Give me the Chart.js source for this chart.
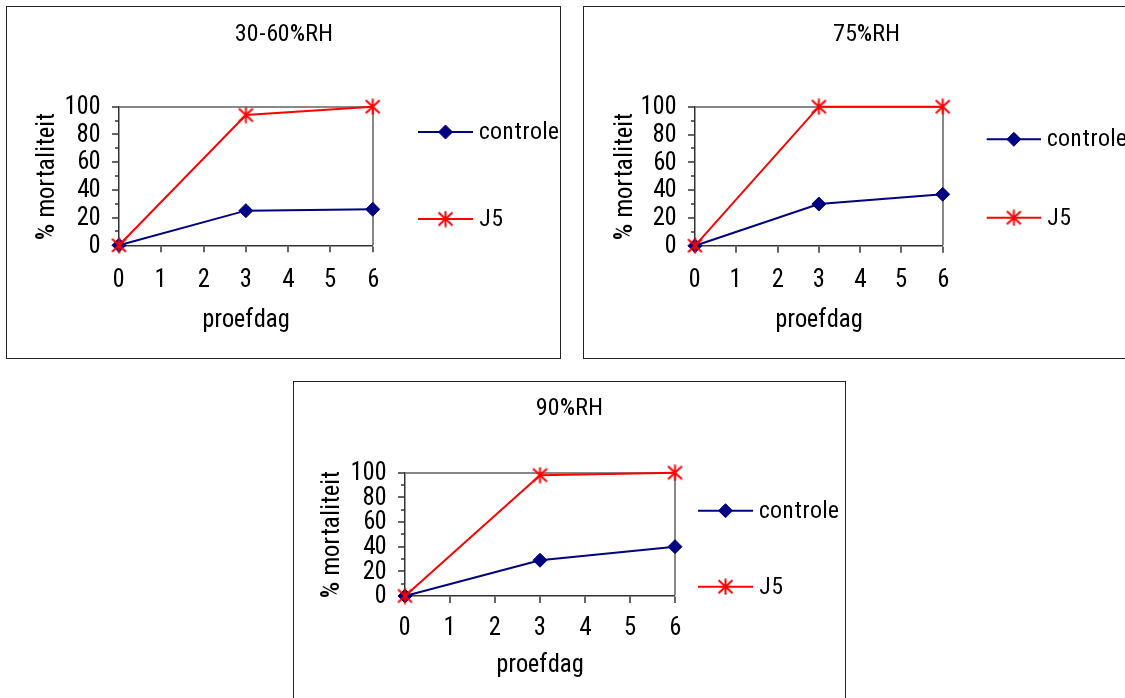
<!DOCTYPE html>
<html>
<head>
<meta charset="utf-8">
<script src="https://cdn.jsdelivr.net/npm/chart.js@4.4.1/dist/chart.umd.min.js"></script>
<style>
html,body{margin:0;padding:0;background:#fff;width:1125px;height:698px;overflow:hidden;position:relative}
.panel{position:absolute;border:1px solid #222;background:#fff}
.panel canvas{display:block}
</style>
</head>
<body>
<div class="panel" style="left:6px;top:6px;"><canvas id="c1" width="553" height="351"></canvas></div>
<div class="panel" style="left:583px;top:6px;"><canvas id="c2" width="564" height="351"></canvas></div>
<div class="panel" style="left:293px;top:381px;"><canvas id="c3" width="551" height="318"></canvas></div>
<script>
// ---- data ----
const days = [0, 3, 6];
const seriesNames = ['controle', 'J5'];
const titles = ['30-60%RH', '75%RH', '90%RH'];
const controle3060 = [0, 25, 26];
const j5_3060 = [0, 94, 100];
const controle75 = [0, 30, 37];
const j5_75 = [0, 100, 100];
const controle90 = [0, 29, 40];
const j5_90 = [0, 98, 100];
const xTickRange = [0, 6];
const yTickRange = [0, 100];
const yLabelStep = 20;
const xAxisTitle = 'proefdag';
const yAxisTitle = '% mortaliteit';

// ---- styling / layout ----
const NAVY = '#000080', RED = '#ff0000';
const AXIS_DARK = '#333333', FRAME_GRAY = '#888888';
const X_TICK_LEN = 7, Y_TICK_LEN = 7;

function starImage(color) {
  const c = document.createElement('canvas');
  c.width = 17; c.height = 17;
  const g = c.getContext('2d');
  g.strokeStyle = color; g.lineWidth = 2;
  g.beginPath();
  g.moveTo(8.5, 0.5); g.lineTo(8.5, 16.5);
  g.moveTo(1.5, 2); g.lineTo(15.5, 15);
  g.moveTo(15.5, 2); g.lineTo(1.5, 15);
  g.stroke();
  return c;
}
const STAR = starImage(RED);

const panels = [
  {id: 'c1', title: titles[0], ctl: controle3060, j5: j5_3060, W: 553, H: 351,
   area: {left: 112, right: 365.7, top: 99.7, bottom: 238.3}, yTitleX: 39.7, titleY: 27, xLabelY: 273, xTitleY: 313,
   legend: {x1: 45.3, x2: 100.3, tx: 106.3, rows: [25.3, 112.3]}},
  {id: 'c2', title: titles[1], ctl: controle75, j5: j5_75, W: 564, H: 351,
   area: {left: 111, right: 358.7, top: 99.7, bottom: 238.7}, yTitleX: 40.5, titleY: 27, xLabelY: 273, xTitleY: 313,
   legend: {x1: 44, x2: 98.3, tx: 104, rows: [32.6, 111]}},
  {id: 'c3', title: titles[2], ctl: controle90, j5: j5_90, W: 551, H: 318,
   area: {left: 111, right: 381, top: 90.7, bottom: 214}, yTitleX: 38, titleY: 26, xLabelY: 246, xTitleY: 283,
   legend: {x1: 23, x2: 78, tx: 84, rows: [38, 114]}}
];

function fitSize(font, text, targetW, maxSize) {
  const g = document.createElement('canvas').getContext('2d');
  g.font = '100px ' + font;
  const w = g.measureText(text).width;
  return Math.min(maxSize, Math.round(100 * targetW / w * 2) / 2);
}

function draw(family) {
  const FONT = family;
  const S = {
    tick: fitSize(FONT, '100', 37, 27),
    axis: Math.min(fitSize(FONT, 'proefdag', 88, 27), fitSize(FONT, '% mortaliteit', 130, 27)),
    title: fitSize(FONT, '30-60%RH', 95, 24),
    legend: fitSize(FONT, 'controle', 76, 26)
  };
  Chart.defaults.font.family = FONT;
  Chart.defaults.color = '#000';

  const lineLegend = {
    id: 'lineLegend',
    afterDraw(chart, args, opts) {
      const {ctx, chartArea} = chart;
      ctx.save();
      chart.data.datasets.forEach((ds, i) => {
        const y = chartArea.top + opts.rows[i];
        const x1 = chartArea.right + opts.x1, x2 = chartArea.right + opts.x2;
        const xm = (x1 + x2) / 2;
        ctx.strokeStyle = ds.borderColor; ctx.lineWidth = ds.borderWidth;
        ctx.beginPath(); ctx.moveTo(x1, y); ctx.lineTo(x2, y); ctx.stroke();
        if (ds.pointStyle instanceof HTMLCanvasElement) {
          ctx.drawImage(ds.pointStyle, xm - ds.pointStyle.width / 2, y - ds.pointStyle.height / 2);
        } else {
          const r = ds.pointRadius;
          ctx.fillStyle = ds.pointBackgroundColor; ctx.strokeStyle = ds.pointBorderColor; ctx.lineWidth = ds.pointBorderWidth;
          ctx.beginPath();
          ctx.moveTo(xm, y - r); ctx.lineTo(xm + r, y); ctx.lineTo(xm, y + r); ctx.lineTo(xm - r, y); ctx.closePath();
          ctx.fill(); ctx.stroke();
        }
        ctx.fillStyle = '#000';
        ctx.font = S.legend + 'px ' + FONT;
        ctx.textBaseline = 'middle'; ctx.textAlign = 'left';
        ctx.fillText(ds.label, chartArea.right + opts.tx, y);
      });
      ctx.restore();
    }
  };

  panels.forEach(p => {
    const titleLH = S.title * 1.2, tickLH = S.tick * 1.2, axLH = S.axis * 1.2;
    const titlePadTop = p.titleY - titleLH / 2;
    const titlePadBottom = p.area.top - titlePadTop - titleLH;
    const xTickPad = p.xLabelY - p.area.bottom - X_TICK_LEN - tickLH / 2;
    const xTitlePad = p.H - p.xTitleY - axLH / 2;
    const yTitlePad = p.yTitleX - axLH / 2;

    new Chart(document.getElementById(p.id), {
      type: 'line',
      data: {
        datasets: [
          {label: seriesNames[0], data: days.map((d, i) => ({x: d, y: p.ctl[i]})),
           borderColor: NAVY, borderWidth: 2, pointStyle: 'rectRot', pointRadius: 7,
           pointBackgroundColor: NAVY, pointBorderColor: NAVY, pointBorderWidth: 1,
           tension: 0, clip: false, order: 1, yAxisID: 'y', xAxisID: 'x'},
          {label: seriesNames[1], data: days.map((d, i) => ({x: d, y: p.j5[i]})),
           borderColor: RED, borderWidth: 2, pointStyle: STAR, pointRadius: 8,
           pointBackgroundColor: RED, pointBorderColor: RED, pointBorderWidth: 2,
           tension: 0, clip: false, order: 0, yAxisID: 'y', xAxisID: 'x'}
        ]
      },
      options: {
        responsive: false, animation: false, devicePixelRatio: 1, events: [],
        layout: {padding: 0},
        plugins: {
          legend: {display: false}, tooltip: {enabled: false},
          title: {display: true, text: p.title, color: '#000', font: {size: S.title, weight: 'normal'},
                  padding: {top: titlePadTop, bottom: titlePadBottom}},
          lineLegend: p.legend
        },
        scales: {
          x: {
            type: 'linear', position: 'bottom', min: xTickRange[0], max: xTickRange[1],
            ticks: {stepSize: 1, color: '#000', font: {size: S.tick}, padding: xTickPad, autoSkip: false, maxRotation: 0},
            grid: {display: true, drawOnChartArea: true, drawTicks: true, tickLength: X_TICK_LEN,
                   color: c => (c.tick && c.tick.value === xTickRange[1]) ? FRAME_GRAY : 'rgba(0,0,0,0)',
                   lineWidth: c => (c.tick && c.tick.value === xTickRange[1]) ? 2 : 0,
                   tickColor: AXIS_DARK, tickWidth: 1.5},
            border: {display: true, color: AXIS_DARK, width: 1.5},
            title: {display: true, text: xAxisTitle, color: '#000', font: {size: S.axis}, padding: {top: 0, bottom: xTitlePad}},
            afterFit: s => { s.height = p.H - p.area.bottom; }
          },
          y: {
            type: 'linear', position: 'left', min: yTickRange[0], max: yTickRange[1],
            ticks: {stepSize: 10, color: '#000', font: {size: S.tick}, padding: 11, autoSkip: false,
                    callback: v => (v % yLabelStep === 0 ? String(v) : '')},
            grid: {display: true, drawOnChartArea: true, drawTicks: true, tickLength: Y_TICK_LEN,
                   color: c => (c.tick && c.tick.value === yTickRange[1]) ? FRAME_GRAY : 'rgba(0,0,0,0)',
                   lineWidth: c => (c.tick && c.tick.value === yTickRange[1]) ? 2 : 0,
                   tickColor: AXIS_DARK, tickWidth: 1.5,
                   tickBorderDash: c => (c.tick && c.tick.value % yLabelStep !== 0) ? [0, 3, 4, 0] : []},
            border: {display: true, color: AXIS_DARK, width: 1.5},
            title: {display: true, text: yAxisTitle, color: '#000', font: {size: S.axis}, padding: {top: yTitlePad, bottom: 0}},
            afterFit: s => { s.width = p.area.left; }
          },
          y2: {
            type: 'linear', position: 'right', display: true,
            grid: {display: false}, border: {display: false}, ticks: {display: false},
            afterFit: s => { s.width = p.W - p.area.right; }
          }
        }
      },
      plugins: [lineLegend]
    });
  });
}

const narrowFace = new FontFace('NarrowX',
  'local("Liberation Sans Narrow"), local("LiberationSansNarrow-Regular"), local("Arial Narrow"), local("ArialNarrow"), ' +
  'local("Noto Sans Condensed"), local("NotoSans-Condensed"), local("Roboto Condensed"), local("RobotoCondensed-Regular"), ' +
  'local("Noto Sans SemiCondensed"), local("NotoSans-SemiCondensed"), ' +
  'local("DejaVu Sans Condensed"), local("DejaVuSansCondensed")');
narrowFace.load()
  .then(f => { document.fonts.add(f); draw("NarrowX, 'Liberation Sans', sans-serif"); })
  .catch(() => draw("'Liberation Sans', Arial, sans-serif"));
</script>
</body>
</html>
